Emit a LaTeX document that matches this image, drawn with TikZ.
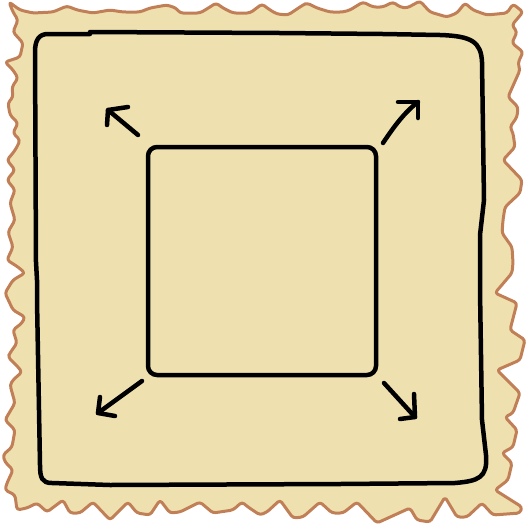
\documentclass[tikz,border=0pt]{standalone}
\definecolor{paper}{HTML}{EFE1AF}
\definecolor{paperedge}{HTML}{C17F57}
\tikzset{
  edge/.style={draw=paperedge, fill=paper, line width=3pt, line join=round, rounded corners=3pt},
  ink/.style={draw=black, line width=4.5pt, line cap=round, line join=round},
}
\begin{document}
\begin{tikzpicture}[x=1pt,y=-1pt]
\useasboundingbox (0,0) rectangle (528,528);
% paper with wavy edge
\path[edge] (9,2) -- (20,10) -- (33,13) -- (53,12) -- (67,6) -- (77,10) -- (93,13) -- (110,10) -- (123,12) -- (140,12) -- (150,8) -- (167,5) -- (176,8) -- (180,13) -- (200,13) -- (210,7) -- (216,3) -- (223,8) -- (233,13) -- (250,13) -- (262,4) -- (270,10) -- (277,14) -- (288,15) -- (303,5) -- (307,3) -- (317,8) -- (330,12) -- (343,12) -- (350,10) -- (363,2) -- (373,7) -- (383,7) -- (393,2) -- (400,7) -- (407,8) -- (420,1) -- (430,12) -- (447,17) -- (457,13) -- (465,3) -- (473,10) -- (487,15) -- (507,13) -- (513,4) -- (523,12)
 -- (512,25) -- (517,32) -- (512,43) -- (523,52) -- (518,63) -- (520,70) -- (508,97) -- (518,107) -- (517,117) -- (510,127) -- (513,133) -- (515,147) -- (503,160) -- (522,180) -- (520,193) -- (505,207) -- (503,220) -- (502,233) -- (512,247) -- (513,263) -- (512,273) -- (495,293) -- (517,303) -- (510,330) -- (525,340) -- (520,360) -- (497,370) -- (520,393) -- (513,413) -- (505,417) -- (517,430) -- (513,447) -- (502,453) -- (512,463) -- (508,480) -- (495,490) -- (522,507) -- (520,513)
 -- (493,515) -- (482,503) -- (467,517) -- (457,517) -- (445,497) -- (430,522) -- (417,520) -- (410,508) -- (377,523) -- (357,502) -- (343,513) -- (332,513) -- (320,502) -- (303,517) -- (293,518) -- (280,500) -- (267,512) -- (260,515) -- (248,507) -- (242,502) -- (233,510) -- (213,513) -- (200,502) -- (180,512) -- (170,513) -- (160,500) -- (150,515) -- (137,513) -- (128,502) -- (110,520) -- (93,502) -- (80,513) -- (70,513) -- (63,500) -- (47,512) -- (37,503) -- (27,508) -- (17,510) -- (15,495) -- (5,490) -- (7,483) -- (13,470)
 -- (5,462) -- (3,455) -- (12,447) -- (15,430) -- (5,420) -- (15,403) -- (10,385) -- (13,380) -- (22,372) -- (18,367) -- (8,357) -- (10,353) -- (17,343) -- (13,330) -- (22,323) -- (25,317) -- (13,310) -- (5,293) -- (13,280) -- (25,273) -- (18,267) -- (7,260) -- (13,247) -- (8,232) -- (15,220) -- (10,203) -- (15,190) -- (7,180) -- (15,170) -- (7,160) -- (13,153) -- (17,147) -- (20,140) -- (13,133) -- (18,123) -- (10,115) -- (8,103) -- (13,97) -- (12,87) -- (18,78) -- (13,70) -- (5,62) -- (20,57) -- (23,43) -- (13,32) -- (18,20) -- (13,12) -- cycle;
% outer frame
\draw[ink] (48,34) -- (90,34) -- (90,32) -- (280,33) -- (383,34) -- (440,35) .. controls (472,36) and (481,42) .. (482,62) -- (484,200) -- (480,235) -- (480,290) -- (482,420) -- (486,455) .. controls (488,478) and (478,481) .. (455,483) -- (340,484) -- (110,485) -- (52,483) .. controls (42,483) and (40,478) .. (40,465) -- (37,300) -- (37,280) -- (36,262) -- (35,52) .. controls (35,40) and (39,34) .. (48,34) -- cycle;
% inner square
\draw[ink, rounded corners=9pt] (148,147) -- (376,147) -- (376,375) -- (148,375) -- cycle;
% arrows
\draw[ink] (138,135) -- (108,110);
\draw[ink] (128,107) -- (108,110) -- (107,125);
\draw[ink] (383,143) .. controls (395,125) and (405,112) .. (418,102);
\draw[ink] (398,102) -- (418,102) -- (418,118);
\draw[ink] (384,383) -- (415,417);
\draw[ink] (414,394) -- (415,417) -- (400,419);
\draw[ink] (142,381) -- (98,413);
\draw[ink] (100,397) -- (98,413) -- (115,416);
\end{tikzpicture}
\end{document}
